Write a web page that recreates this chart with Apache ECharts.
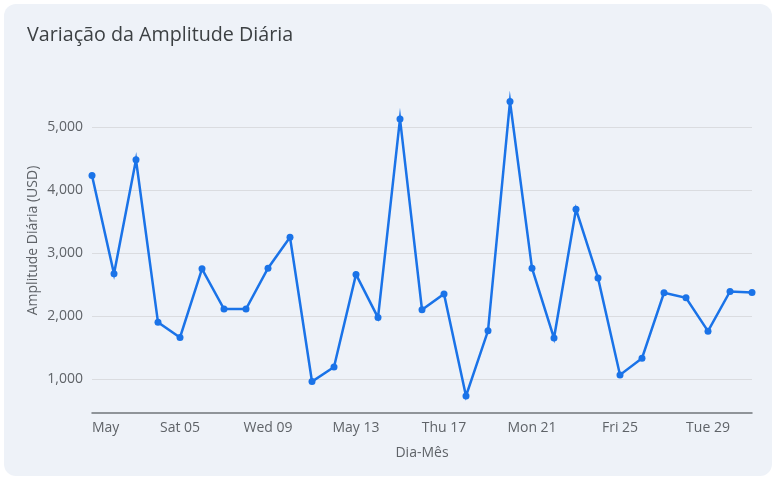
<!DOCTYPE html>
<html>
<head>
<meta charset="utf-8">
<script src="https://cdn.jsdelivr.net/npm/echarts@6/dist/echarts.min.js"></script>
<style>
html,body{margin:0;padding:0;background:#ffffff;}
#chart{width:781px;height:478px;}
</style>
</head>
<body>
<div id="chart"></div>
<script>
const categories = [
  "2018-05-01","2018-05-02","2018-05-03","2018-05-04","2018-05-05","2018-05-06","2018-05-07","2018-05-08",
  "2018-05-09","2018-05-10","2018-05-11","2018-05-12","2018-05-13","2018-05-14","2018-05-15","2018-05-16",
  "2018-05-17","2018-05-18","2018-05-19","2018-05-20","2018-05-21","2018-05-22","2018-05-23","2018-05-24",
  "2018-05-25","2018-05-26","2018-05-27","2018-05-28","2018-05-29","2018-05-30","2018-05-31"
];
const amplitude = [
  4230, 2670, 4480, 1900, 1660, 2750, 2110, 2110,
  2760, 3250, 960, 1190, 2660, 1975, 5130, 2100,
  2350, 730, 1765, 5405, 2760, 1650, 3695, 2605,
  1065, 1330, 2370, 2290, 1760, 2390, 2375
];
const xTickLabels = ["May", "Sat 05", "Wed 09", "May 13", "Thu 17", "Mon 21", "Fri 25", "Tue 29"];

const chart = echarts.init(document.getElementById('chart'), null, {renderer: 'canvas'});
const FONT = '"Open Sans", Roboto, sans-serif';
chart.setOption({
  backgroundColor: '#ffffff',
  animation: false,
  graphic: [{
    type: 'rect', left: 4, top: 4, z: -10,
    shape: {width: 768, height: 472, r: 12},
    style: {fill: '#eef2f8'}
  }],
  title: {
    text: 'Variação da Amplitude Diária',
    left: 22, top: 20,
    textStyle: {fontFamily: FONT, fontSize: 19.7, fontWeight: 'normal', color: '#3c4043'}
  },
  grid: {left: 92, right: 29, top: 83, bottom: 36},
  xAxis: {
    type: 'category',
    data: categories,
    boundaryGap: false,
    offset: -29,
    name: 'Dia-Mês',
    nameLocation: 'middle',
    nameGap: 33,
    nameTextStyle: {fontFamily: FONT, fontSize: 14, color: '#5f6368'},
    axisLine: {show: true, onZero: false, lineStyle: {color: '#70757a', width: 1.5}},
    axisTick: {show: false},
    axisLabel: {
      interval: 3,
      margin: 8,
      alignMinLabel: 'left',
      fontFamily: FONT, fontSize: 14, color: '#5f6368',
      formatter: function (v, i) { return xTickLabels[Math.round(i / 4)] || ''; }
    },
    splitLine: {show: false}
  },
  yAxis: {
    type: 'value',
    min: 0,
    max: 5700,
    interval: 1000,
    name: 'Amplitude Diária (USD)',
    nameLocation: 'middle',
    nameGap: 52,
    nameMoveOverlap: false,
    nameTextStyle: {fontFamily: FONT, fontSize: 14, color: '#5f6368', padding: [0, 0, 0, 44]},
    axisLine: {show: false},
    axisTick: {show: false},
    axisLabel: {
      showMinLabel: false, showMaxLabel: false,
      margin: 9,
      fontFamily: FONT, fontSize: 14, color: '#5f6368',
      formatter: function (v) { return v.toLocaleString('en-US'); }
    },
    splitLine: {show: true, showMinLine: false, showMaxLine: false, lineStyle: {color: '#dadce0', width: 1}}
  },
  series: [{
    type: 'line',
    data: amplitude,
    clip: true,
    symbol: 'circle',
    symbolSize: 7,
    itemStyle: {color: '#1a73e8'},
    lineStyle: {color: '#1a73e8', width: 2.5, join: 'miter', miterLimit: 10}
  }]
});
</script>
</body>
</html>
